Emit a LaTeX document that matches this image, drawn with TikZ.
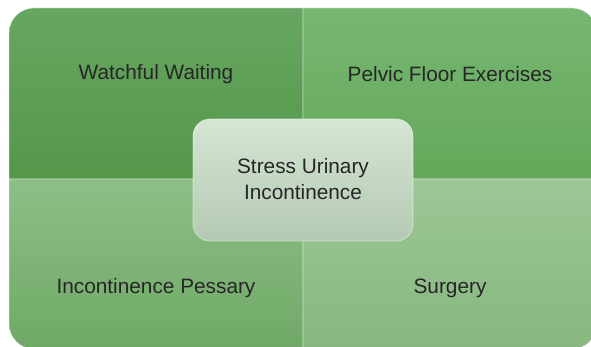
\documentclass[tikz,border=0pt]{standalone}
\usepackage{fontspec}
\setmainfont{Liberation Sans}
\begin{document}
\begin{tikzpicture}[x=1pt,y=-1pt,
  quad/.style={draw=white, draw opacity=0.45, line width=0.7pt},
  lbl/.style={text=black!85, font=\fontsize{20.8}{26}\selectfont, align=center, inner sep=0pt},
  centerbox/.style={draw=white, draw opacity=0.5, line width=0.7pt, rounded corners=17pt,
     top color=cbTop, bottom color=cbBot}]
\definecolor{tlTop}{RGB}{103,166,98}
\definecolor{tlBot}{RGB}{84,151,73}
\definecolor{trTop}{RGB}{120,182,115}
\definecolor{trBot}{RGB}{99,169,89}
\definecolor{blTop}{RGB}{140,191,134}
\definecolor{blBot}{RGB}{111,169,102}
\definecolor{brTop}{RGB}{157,199,151}
\definecolor{brBot}{RGB}{135,183,127}
\definecolor{cbTop}{RGB}{213,230,212}
\definecolor{cbBot}{RGB}{180,201,178}
\useasboundingbox (0,0) rectangle (591,347);
\fill[white] (0,0) rectangle (591,347);
\clip (0,0) rectangle (591,347);
% quadrants
\path[quad, top color=tlTop, bottom color=tlBot]
  (303,179) -- (9,179) [rounded corners=25pt] -- (9,8) [sharp corners] -- (303,8) -- cycle;
\path[quad, top color=trTop, bottom color=trBot]
  (303,179) -- (303,8) [rounded corners=25pt] -- (597,8) [sharp corners] -- (597,179) -- cycle;
\path[quad, top color=blTop, bottom color=blBot]
  (303,179) -- (9,179) [rounded corners=25pt] -- (9,349) [sharp corners] -- (303,349) -- cycle;
\path[quad, top color=brTop, bottom color=brBot]
  (303,179) -- (303,349) [rounded corners=25pt] -- (597,349) [sharp corners] -- (597,179) -- cycle;
% labels
\node[lbl] (ww) at (156,74) {Watchful Waiting};
\node[lbl] (pf) at (450,74) {Pelvic Floor Exercises};
\node[lbl] (ip) at (156,288) {Incontinence Pessary};
\node[lbl] (sg) at (450,288) {Surgery};
% center
\path[centerbox] (193,119) rectangle (413,241);
\node[lbl] (sui) at (303,179) {Stress Urinary\\Incontinence};
\end{tikzpicture}
\end{document}
